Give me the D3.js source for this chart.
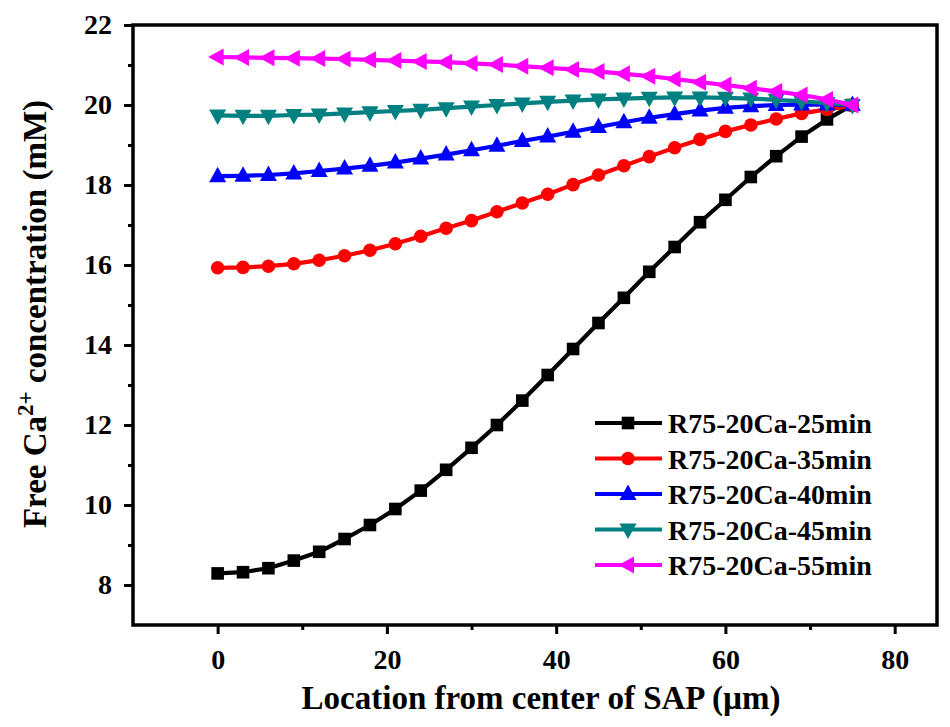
<!DOCTYPE html>
<html lang="en">
<head>
<meta charset="UTF-8">
<title>Free Ca2+ concentration</title>
<script src="https://d3js.org/d3.v7.min.js"></script>
<style>
    body { margin: 0; background: #fff; }
    svg { font-family: "Liberation Serif", "Times New Roman", serif; font-weight: bold; }
</style>
</head>
<body>
<svg id="chart" width="950" height="727"></svg>
<script>

// data
const locations = [0, 3, 6, 9, 12, 15, 18, 21, 24, 27, 30, 33, 36, 39, 42, 45, 48, 51, 54, 57, 60, 63, 66, 69, 72, 75];
const seriesNames = ['R75-20Ca-25min', 'R75-20Ca-35min', 'R75-20Ca-40min', 'R75-20Ca-45min', 'R75-20Ca-55min'];
const ca25 = [8.29, 8.32, 8.42, 8.61, 8.83, 9.15, 9.5, 9.9, 10.36, 10.88, 11.43, 12.0, 12.61, 13.25, 13.9, 14.55, 15.18, 15.83, 16.45, 17.07, 17.63, 18.2, 18.72, 19.21, 19.64, 20.0];
const ca35 = [15.93, 15.94, 15.97, 16.03, 16.12, 16.23, 16.37, 16.53, 16.72, 16.92, 17.11, 17.33, 17.55, 17.77, 18.01, 18.25, 18.48, 18.71, 18.93, 19.14, 19.34, 19.5, 19.65, 19.79, 19.89, 19.98];
const ca40 = [18.22, 18.23, 18.25, 18.29, 18.35, 18.41, 18.48, 18.56, 18.66, 18.76, 18.87, 18.98, 19.1, 19.21, 19.33, 19.45, 19.57, 19.68, 19.77, 19.86, 19.93, 19.97, 20.0, 20.01, 20.01, 20.0];
const ca45 = [19.74, 19.73, 19.73, 19.75, 19.76, 19.79, 19.82, 19.85, 19.88, 19.92, 19.96, 20.0, 20.04, 20.08, 20.11, 20.14, 20.16, 20.18, 20.19, 20.19, 20.18, 20.16, 20.13, 20.09, 20.05, 20.0];
const ca55 = [21.2, 21.19, 21.18, 21.17, 21.16, 21.15, 21.13, 21.11, 21.09, 21.07, 21.04, 21.01, 20.97, 20.93, 20.89, 20.84, 20.78, 20.72, 20.65, 20.57, 20.5, 20.42, 20.34, 20.25, 20.14, 20.0];
const xTicks = [0, 20, 40, 60, 80];
const yTicks = [8, 10, 12, 14, 16, 18, 20, 22];

const colors = ['#000000', '#ff0000', '#0000ff', '#008080', '#ff00ff'];
const symbols = ['square', 'circle', 'up', 'down', 'left'];
const allSeries = [ca25, ca35, ca40, ca45, ca55];

const svg = d3.select('#chart');
svg.append('rect').attr('width', 950).attr('height', 727).attr('fill', '#fff');

const m = { left: 133, right: 937, top: 25, bottom: 625 };
const x = d3.scaleLinear().domain([-10, 85]).range([m.left, m.right]);
const y = d3.scaleLinear().domain([7, 22]).range([m.bottom, m.top]);

// markers
function marker(g, type, color) {
    if (type === 'square') {
        g.append('rect').attr('x', -6.3).attr('y', -6.3).attr('width', 12.6).attr('height', 12.6).attr('fill', color);
    } else if (type === 'circle') {
        g.append('circle').attr('r', 6.8).attr('fill', color);
    } else {
        const pts = {
            up: [[0, -9.5], [8.5, 6], [-8.5, 6]],
            down: [[0, 9.5], [8.5, -6], [-8.5, -6]],
            left: [[-9.5, 0], [6, -8.5], [6, 8.5]]
        }[type];
        g.append('polygon').attr('points', pts.map(p => p.join(',')).join(' ')).attr('fill', color);
    }
}

const line = d3.line().x((d, i) => x(locations[i])).y(d => y(d));

allSeries.forEach((vals, k) => {
    const g = svg.append('g');
    g.append('path')
        .datum(vals)
        .attr('d', line)
        .attr('fill', 'none')
        .attr('stroke', colors[k])
        .attr('stroke-width', 4.2)
        .attr('stroke-linejoin', 'round');
    g.selectAll('g.pt')
        .data(vals)
        .enter()
        .append('g')
        .attr('class', 'pt')
        .attr('transform', (d, i) => `translate(${x(locations[i])},${y(d)})`)
        .each(function () { marker(d3.select(this), symbols[k], colors[k]); });
});

// axes
svg.append('g').attr('transform', `translate(0,${m.bottom})`)
    .call(d3.axisBottom(x).tickValues(xTicks).tickSize(9).tickPadding(15).tickSizeOuter(0));
svg.append('g').attr('transform', `translate(0,${m.bottom})`)
    .call(d3.axisBottom(x).tickValues([10, 30, 50, 70]).tickSize(5).tickFormat('').tickSizeOuter(0));
svg.append('g').attr('transform', `translate(${m.left},0)`)
    .call(d3.axisLeft(y).tickValues(yTicks).tickSize(9).tickPadding(12).tickSizeOuter(0));
svg.append('g').attr('transform', `translate(${m.left},0)`)
    .call(d3.axisLeft(y).tickValues([9, 11, 13, 15, 17, 19, 21]).tickSize(5).tickFormat('').tickSizeOuter(0));

svg.selectAll('.domain').remove();
svg.selectAll('.tick line').attr('stroke', '#000').attr('stroke-width', 3);
svg.selectAll('.tick text').attr('fill', '#000').style('font-size', '28px').style('font-family', '"Liberation Serif", serif').style('font-weight', 'bold');

// frame
svg.append('rect')
    .attr('x', m.left).attr('y', m.top)
    .attr('width', m.right - m.left).attr('height', m.bottom - m.top)
    .attr('fill', 'none').attr('stroke', '#000').attr('stroke-width', 3.5);

// axis titles
svg.append('text')
    .attr('x', 541).attr('y', 709)
    .attr('text-anchor', 'middle')
    .style('font-size', '33px')
    .text('Location from center of SAP (\u00b5m)');

const yt = svg.append('text')
    .attr('transform', 'translate(46,314) rotate(-90)')
    .attr('text-anchor', 'middle')
    .style('font-size', '33px');
yt.append('tspan').text('Free Ca');
yt.append('tspan').attr('dy', -13).style('font-size', '23px').text('2+');
yt.append('tspan').attr('dy', 13).text(' concentration (mM)');

// legend
const legend = svg.append('g').attr('transform', 'translate(595,423)');
seriesNames.forEach((name, k) => {
    const row = legend.append('g').attr('transform', `translate(0,${k * 35.5})`);
    row.append('line').attr('x1', 0).attr('x2', 67).attr('y1', 0).attr('y2', 0)
        .attr('stroke', colors[k]).attr('stroke-width', 4.2);
    marker(row.append('g').attr('transform', 'translate(33,0)'), symbols[k], colors[k]);
    row.append('text').attr('x', 73).attr('y', 10).style('font-size', '28px').text(name);
});

</script>
</body>
</html>
